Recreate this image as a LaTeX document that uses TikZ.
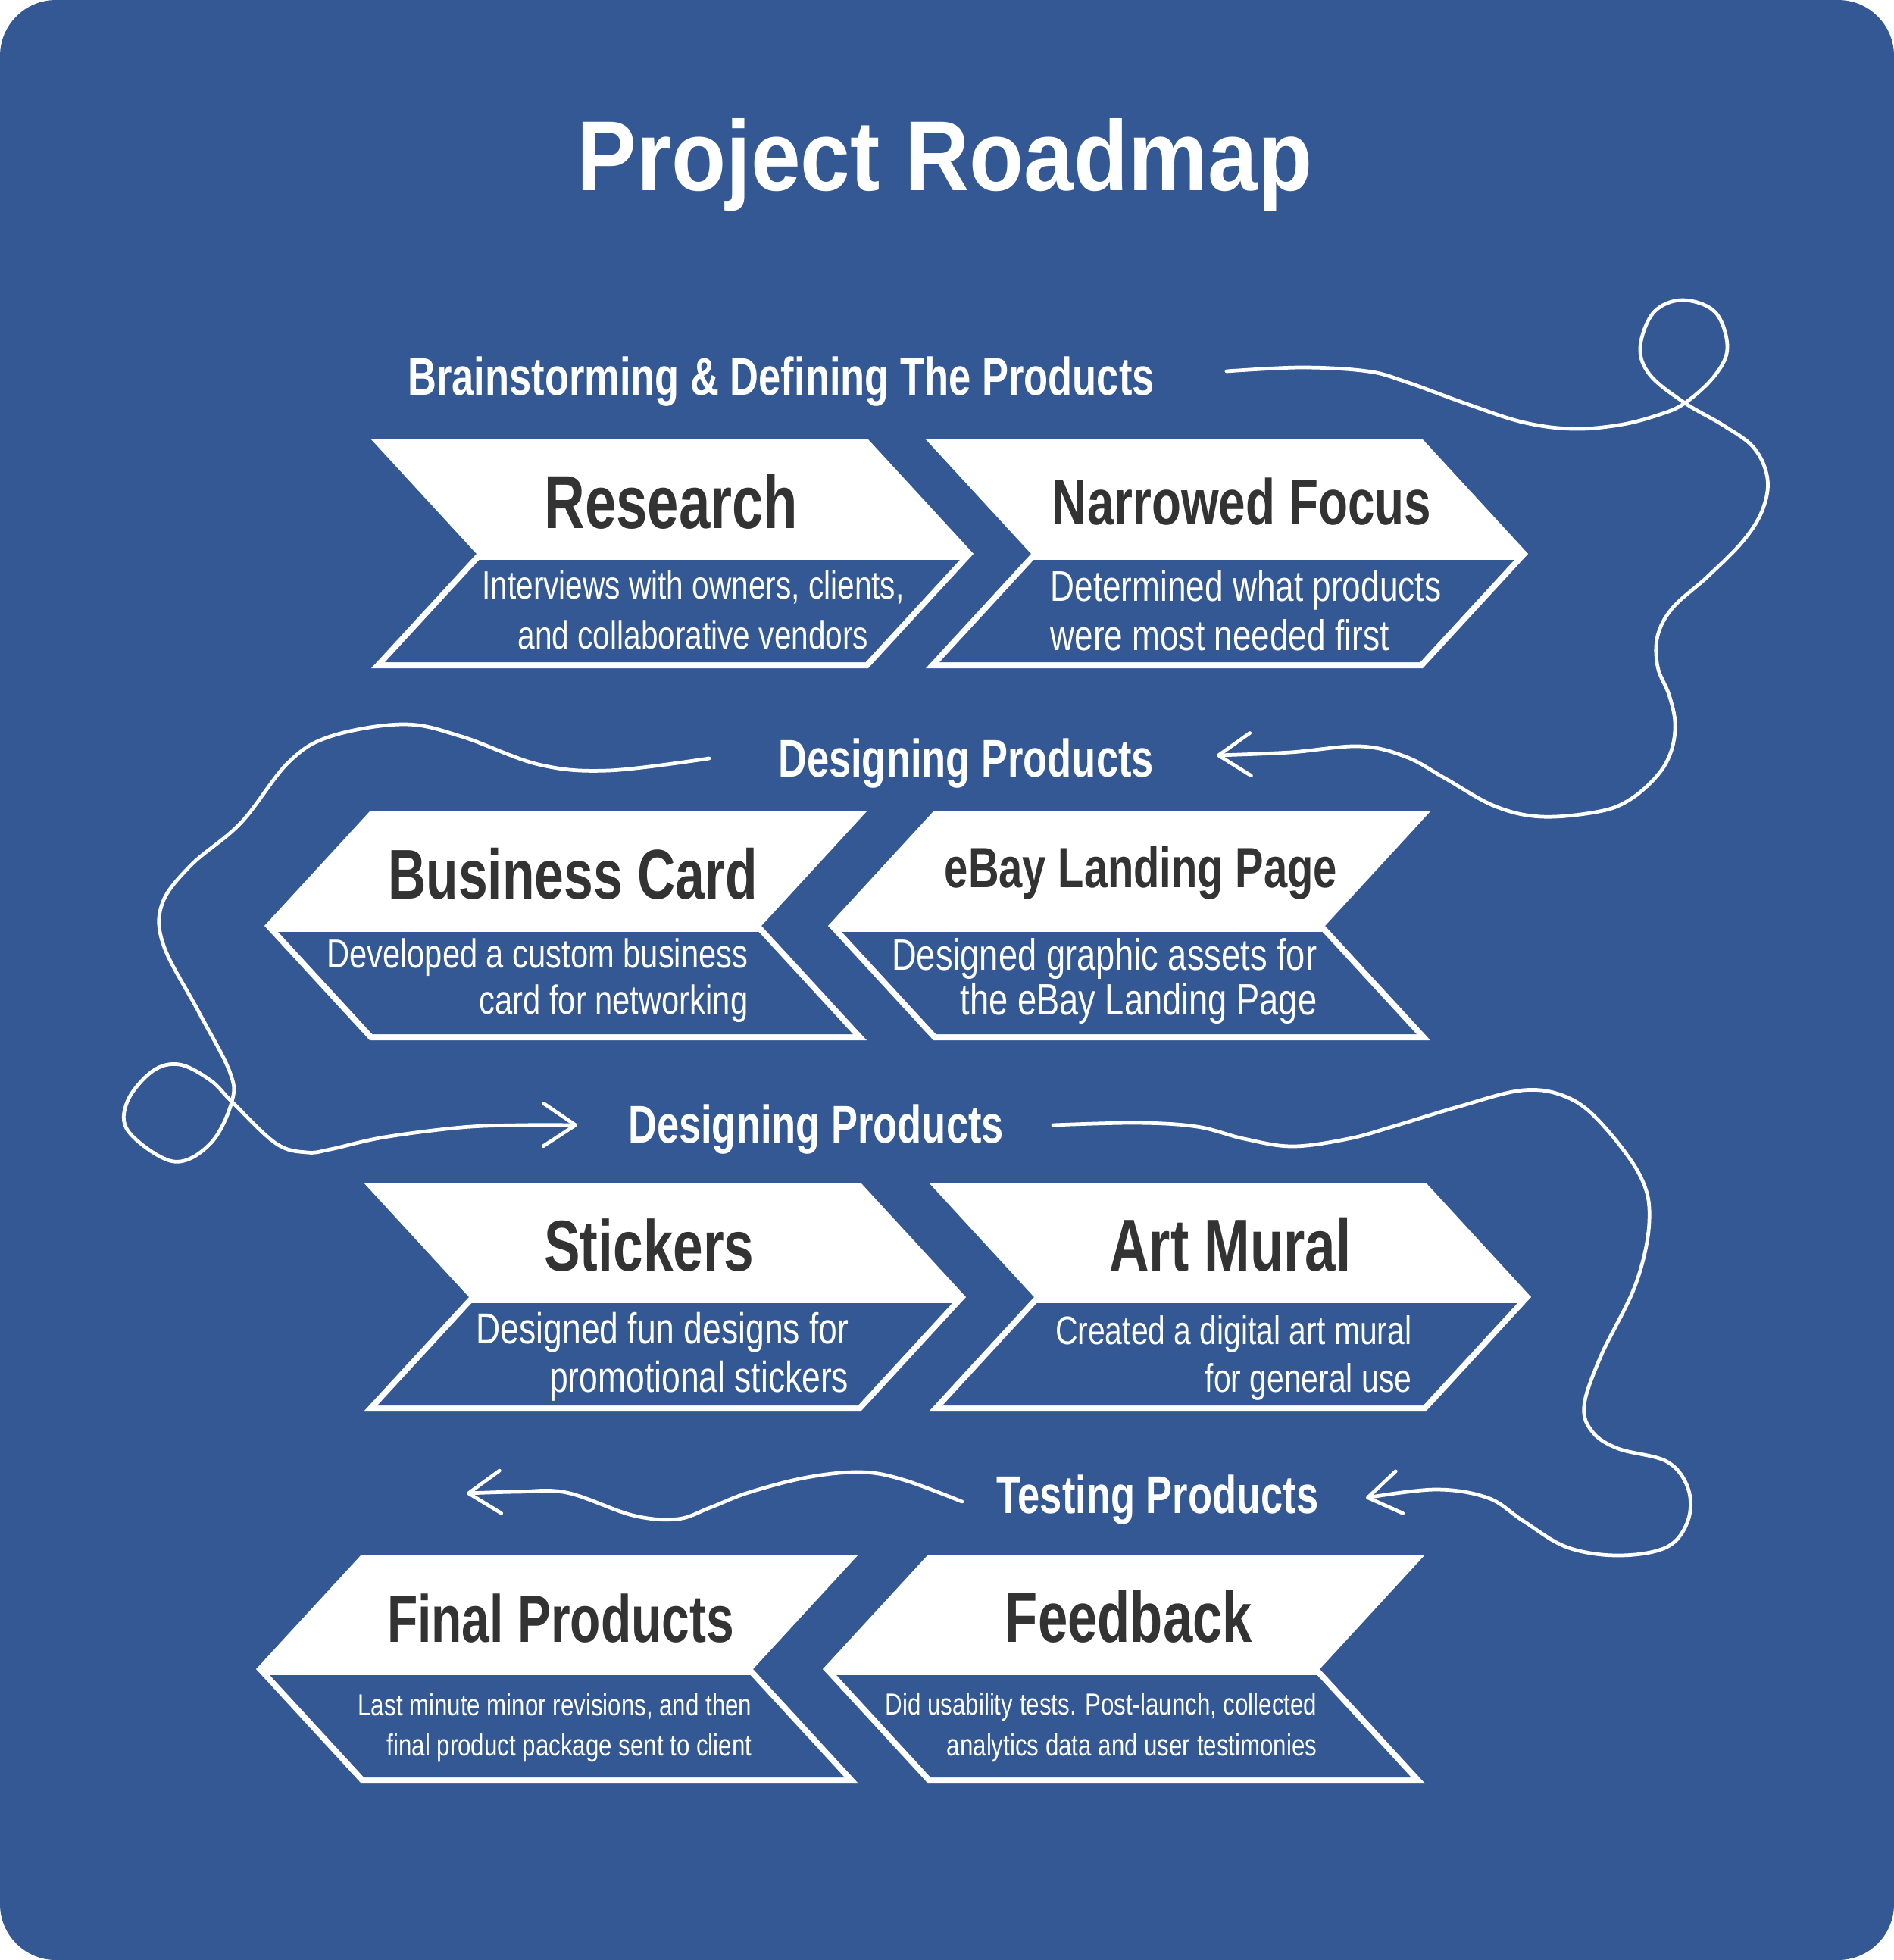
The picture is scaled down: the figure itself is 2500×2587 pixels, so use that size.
\documentclass[tikz,border=0pt]{standalone}
\usepackage{fontspec}
\setmainfont{Liberation Sans}
\newfontfamily\titlefont[FakeStretch=0.9]{Liberation Sans}
\newfontfamily\condfont[FakeStretch=0.75]{Liberation Sans}
\newfontfamily\descfont[FakeStretch=0.78]{Liberation Sans}
\usetikzlibrary{arrows.meta}
\definecolor{bgblue}{RGB}{52,88,148}
\definecolor{darktext}{RGB}{51,51,51}
\newcommand\chevR[2]{%
  \fill[white] (#1,#2) -- ({#1+656},#2) -- ({#1+795},{#2+151}) -- ({#1+656},{#2+302}) -- (#1,{#2+302}) -- ({#1+139},{#2+151}) -- cycle;
  \fill[bgblue] ({#1+142.5},{#2+159}) -- ({#1+776.8},{#2+159}) -- ({#1+652.5},{#2+294}) -- ({#1+18.2},{#2+294}) -- cycle;}
\newcommand\chevL[2]{%
  \fill[white] (#1,#2) -- ({#1+656},#2) -- ({#1+517},{#2+151}) -- ({#1+656},{#2+302}) -- (#1,{#2+302}) -- ({#1-139},{#2+151}) -- cycle;
  \fill[bgblue] ({#1-120.8},{#2+159}) -- ({#1+513.5},{#2+159}) -- ({#1+637.8},{#2+294}) -- ({#1+3.5},{#2+294}) -- cycle;}
\tikzset{
  bigtitle/.style={inner sep=0pt, text=white, anchor=base, font=\titlefont\bfseries\fontsize{37.3}{44}\selectfont},
  lbl/.style={inner sep=0pt, text=white, anchor=base, font=\condfont\bfseries\fontsize{19.9}{24}\selectfont},
  ctitle/.style={inner sep=0pt, text=darktext, anchor=base, font=\condfont\bfseries\fontsize{#1}{#1}\selectfont},
  desc/.style={inner sep=0pt, text=white, font=\descfont\fontsize{#1}{#1}\selectfont},
  swirl/.style={draw=white, line width=1.35pt, line cap=round, line join=round},
  barbend/.style={-{Straight Barb[length=12pt,width=16pt,line cap=round,line join=round]}}
}
\begin{document}
\begin{tikzpicture}[x=0.01cm,y=-0.01cm]
\fill[white] (0,0) rectangle (2500,2587);
\fill[bgblue, rounded corners=21pt] (0,0) rectangle (2500,2587);

\node[bigtitle] (title) at (1247,251) {Project Roadmap};

% section labels
\node[lbl] (s1) at (1031,521) {Brainstorming \& Defining The Products};
\node[lbl] (s2) at (1275,1025) {Designing Products};
\node[lbl] (s3) at (1077,1508) {Designing Products};
\node[lbl] (s4) at (1528,1997) {Testing Products};

% chevrons
\chevR{490}{580}
\chevR{1222}{580}
\chevL{488}{1071}
\chevL{1232}{1071}
\chevR{480}{1561}
\chevR{1226}{1561}
\chevL{477}{2052}
\chevL{1225}{2052}

% titles
\node[ctitle=28.2] (t1) at (886,697) {Research};
\node[ctitle=24.2] (t2) at (1639,692) {Narrowed Focus};
\node[ctitle=26.4] (t3) at (756,1186) {Business Card};
\node[ctitle=21.3] (t4) at (1506,1171) {eBay Landing Page};
\node[ctitle=27.0] (t5) at (857,1677) {Stickers};
\node[ctitle=27.6] (t6) at (1624,1677) {Art Mural};
\node[ctitle=25.0] (t7) at (740,2167) {Final Products};
\node[ctitle=26.8] (t8) at (1490,2167) {Feedback};

% descriptions
\node[desc=14.8, anchor=base] (d1a) at (915,790) {Interviews with owners, clients,};
\node[desc=14.8, anchor=base] (d1b) at (915,856) {and collaborative vendors};
\node[desc=16.1, anchor=base west] (d2a) at (1386,793) {Determined what products};
\node[desc=16.1, anchor=base west] (d2b) at (1386,858) {were most needed first};
\node[desc=15.2, anchor=base east] (d3a) at (988,1277) {Developed a custom business};
\node[desc=15.2, anchor=base east] (d3b) at (988,1338) {card for networking};
\node[desc=16.5, anchor=base east] (d4a) at (1739,1280) {Designed graphic assets for};
\node[desc=16.5, anchor=base east] (d4b) at (1739,1339) {the eBay Landing Page};
\node[desc=16.2, anchor=base east] (d5a) at (1121,1773) {Designed fun designs for};
\node[desc=16.2, anchor=base east] (d5b) at (1121,1837) {promotional stickers};
\node[desc=14.9, anchor=base east] (d6a) at (1864,1774) {Created a digital art mural};
\node[desc=14.9, anchor=base east] (d6b) at (1864,1837) {for general use};
\node[desc=11.4, anchor=base east] (d7a) at (993,2264) {Last minute minor revisions, and then};
\node[desc=11.4, anchor=base east] (d7b) at (993,2317) {final product package sent to client};
\node[desc=11.4, anchor=base east] (d8a) at (1739,2263) {Did usability tests. Post-launch, collected};
\node[desc=11.4, anchor=base east] (d8b) at (1739,2317) {analytics data and user testimonies};

% connector end points
\coordinate (c1s) at (1619,490);
\coordinate (c1e) at (1606,997);
\coordinate (c2s) at (936,1001);
\coordinate (c2e) at (762,1485);
\coordinate (c3s) at (1390,1485);
\coordinate (c3e) at (1803,1977);
\coordinate (c4s) at (1270,1982);
\coordinate (c4e) at (616,1971);

\draw[swirl, barbend] plot[smooth, tension=0.6] coordinates {(c1s) (1718,485) (1805,490) (1856,504) (1933,532) (2009,557) (2075,566) (2137,561) (2188,548) (2224,532) (2264,495) (2280,458) (2264,412) (2221,396) (2183,412) (2165,458) (2178,495) (2224,532) (2274,561) (2315,591) (2333,632) (2326,674) (2300,715) (2254,761) (2208,802) (2188,839) (2188,880) (2203,917) (2211,954) (2206,991) (2188,1023) (2152,1055) (2111,1071) (2035,1078) (1973,1064) (1907,1027) (1856,999) (1795,985) (1703,993) (c1e)};

\draw[swirl, barbend] plot[smooth, tension=0.6] coordinates {(c2s) (803,1017) (711,1009) (609,972) (533,956) (436,972) (380,1007) (318,1086) (252,1142) (214,1193) (216,1248) (262,1335) (303,1414) (306,1454) (278,1509) (229,1533) (170,1494) (168,1454) (201,1414) (237,1405) (278,1426) (306,1454) (364,1509) (405,1521) (436,1517) (507,1501) (609,1488) (686,1485) (c2e)};

\draw[swirl, barbend] plot[smooth, tension=0.6] coordinates {(c3s) (1500,1482) (1580,1487) (1642,1503) (1706,1513) (1780,1503) (1838,1487) (1924,1461) (2010,1439) (2068,1448) (2113,1482) (2165,1552) (2177,1612) (2159,1695) (2113,1790) (2091,1855) (2102,1890) (2136,1912) (2200,1929) (2228,1964) (2228,2007) (2200,2042) (2136,2053) (2068,2042) (2010,2007) (1964,1977) (1895,1966) (c3e)};

\draw[swirl, barbend] plot[smooth, tension=0.6] coordinates {(c4s) (1192,1953) (1136,1943) (1065,1950) (988,1970) (937,1990) (894,2005) (835,2000) (748,1970) (682,1969) (c4e)};
\end{tikzpicture}
\end{document}
